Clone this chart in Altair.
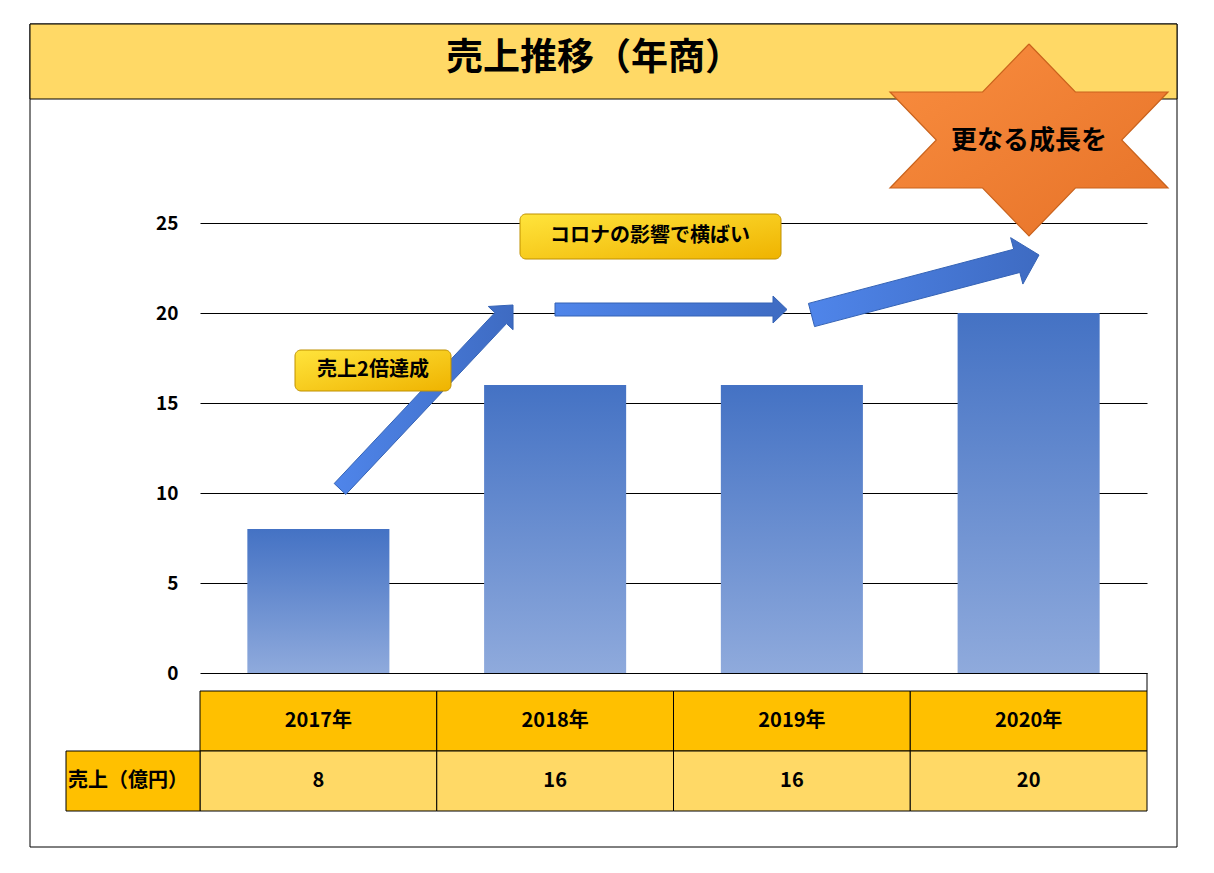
import math
import altair as alt
import pandas as pd

# ---------------- data ----------------
years = ["2017年", "2018年", "2019年", "2020年"]
sales = [8, 16, 16, 20]
row_label = ["売上（億円）"]
title_text = ["売上推移（年商）"]
star_text = ["更なる成長を"]
callout_1 = ["売上2倍達成"]
callout_2 = ["コロナの影響で横ばい"]
y_ticks = [0, 5, 10, 15, 20, 25]

# ---------------- layout / style ----------------
FONT = "Noto Sans CJK JP"
W, H = 947, 450
PAD = {"left": 200, "top": 223, "right": 67, "bottom": 200}

df = pd.DataFrame({"year": years, "sales": sales})
X = alt.X("year:N", sort=years, scale=alt.Scale(paddingInner=0, paddingOuter=0), axis=None)


def grad(c1, c2, x2=0, y2=1):
    return alt.LinearGradient(
        gradient="linear",
        stops=[alt.GradientStop(color=c1, offset=0), alt.GradientStop(color=c2, offset=1)],
        x1=0, y1=0, x2=x2, y2=y2,
    )


def one(vals):
    return pd.DataFrame({"t": vals})


# outer frame (no fill so gridlines stay visible)
frame = alt.Chart(one([""])).mark_rect(fillOpacity=0, stroke="black", strokeWidth=1).encode(
    x=alt.value(-170), x2=alt.value(977), y=alt.value(-199), y2=alt.value(624)
)

# title band
title_band = alt.Chart(one([""])).mark_rect(fill="#FFD966", stroke="black", strokeWidth=1).encode(
    x=alt.value(-170), x2=alt.value(977), y=alt.value(-199), y2=alt.value(-124)
)
title = alt.Chart(one(title_text)).mark_text(
    font=FONT, fontSize=37, fontWeight="bold", color="black", baseline="middle", align="center"
).encode(x=alt.value(394), y=alt.value(-164), text="t:N")

# bars
bars = alt.Chart(df).mark_bar(
    width=alt.RelativeBandSize(band=0.6), color=grad("#4472C4", "#8FAADC")
).encode(
    x=X,
    y=alt.Y(
        "sales:Q",
        scale=alt.Scale(domain=[0, 25], nice=False),
        axis=alt.Axis(
            values=y_ticks, title=None, domain=False, ticks=False, tickSize=0,
            labelPadding=22, labelFontSize=19, labelFontWeight="bold", labelColor="black",
            labelFont=FONT, grid=True, gridColor="black", gridWidth=1, gridOpacity=1,
        ),
    ),
)

# data table under the chart
gap_rule = alt.Chart(one([""])).mark_rule(color="black", strokeWidth=1).encode(
    x=alt.value(947), y=alt.value(450), y2=alt.value(468)
)
head_cells = alt.Chart(df).mark_rect(fill="#FFC000", stroke="black", strokeWidth=1).encode(
    x=X, y=alt.value(468), y2=alt.value(528)
)
data_cells = alt.Chart(df).mark_rect(fill="#FFD966", stroke="black", strokeWidth=1).encode(
    x=X, y=alt.value(528), y2=alt.value(588)
)
txt = dict(font=FONT, fontSize=20, fontWeight="bold", color="black", baseline="middle", align="center")
head_text = alt.Chart(df).mark_text(**txt).encode(x=X, y=alt.value(498), text="year:N")
data_text = alt.Chart(df).mark_text(**txt).encode(x=X, y=alt.value(558), text="sales:Q")
label_cell = alt.Chart(one([""])).mark_rect(fill="#FFC000", stroke="black", strokeWidth=1).encode(
    x=alt.value(-134), x2=alt.value(0), y=alt.value(528), y2=alt.value(588)
)
label_text = alt.Chart(one(row_label)).mark_text(
    font=FONT, fontSize=20, fontWeight="bold", color="black", baseline="middle", align="left"
).encode(x=alt.value(-132), y=alt.value(558), text="t:N")


# block arrows
def arrow_pts(tail, tip, shaft, head_w, head_len):
    tx, ty = tail
    px, py = tip
    L = math.hypot(px - tx, py - ty)
    ux, uy = (px - tx) / L, (py - ty) / L
    nx, ny = -uy, ux
    bx, by = px - ux * head_len, py - uy * head_len
    s, h = shaft / 2, head_w / 2
    pts = [
        (tx + nx * s, ty + ny * s),
        (bx + nx * s, by + ny * s),
        (bx + nx * h, by + ny * h),
        (px, py),
        (bx - nx * h, by - ny * h),
        (bx - nx * s, by - ny * s),
        (tx - nx * s, ty - ny * s),
    ]
    pts.append(pts[0])
    return pts


arrow_specs = [
    ((140, 266), (313, 82), 16, 34, 18),
    ((355, 86.5), (587, 86.5), 13, 27, 14),
    ((611.5, 92), (839, 32), 24, 48, 23),
]
rows = []
for k, spec in enumerate(arrow_specs):
    for i, (ax, ay) in enumerate(arrow_pts(*spec)):
        rows.append({"id": k, "i": i, "px": ax, "py": ay})

arrows = alt.Chart(pd.DataFrame(rows)).mark_line(
    fill=grad("#4F85EA", "#3E6BC2", x2=1, y2=0), stroke="#3563B5", strokeWidth=1, strokeJoin="miter"
).encode(
    x=alt.X("px:Q", scale=None, axis=None),
    y=alt.Y("py:Q", scale=None, axis=None),
    detail="id:N",
    order="i:Q",
)

# callout boxes
cbox = dict(cornerRadius=6, fill=grad("#FFE43C", "#EFB300", x2=1, y2=1), stroke="#BF9000", strokeWidth=1)
box1 = alt.Chart(one([""])).mark_rect(**cbox).encode(
    x=alt.value(95), x2=alt.value(251), y=alt.value(127), y2=alt.value(168)
)
box1_text = alt.Chart(one(callout_1)).mark_text(**txt).encode(x=alt.value(173), y=alt.value(147), text="t:N")
box2 = alt.Chart(one([""])).mark_rect(**cbox).encode(
    x=alt.value(320), x2=alt.value(581), y=alt.value(-9), y2=alt.value(36)
)
box2_text = alt.Chart(one(callout_2)).mark_text(**txt).encode(x=alt.value(450), y=alt.value(13), text="t:N")

# six-pointed star
cx, cy, R, sx = 829, -83, 96, 1.672
srows = []
for k in range(13):
    a = math.radians((k % 12) * 30)
    r = R if k % 2 == 0 else R / math.sqrt(3)
    srows.append({"i": k, "px": cx + r * math.sin(a) * sx, "py": cy - r * math.cos(a)})
star = alt.Chart(pd.DataFrame(srows)).mark_line(
    fill=grad("#F98D3F", "#E67228", x2=1, y2=1), stroke="#C9621C", strokeWidth=1.2, strokeJoin="miter"
).encode(
    x=alt.X("px:Q", scale=None, axis=None),
    y=alt.Y("py:Q", scale=None, axis=None),
    order="i:Q",
)
star_label = alt.Chart(one(star_text)).mark_text(
    font=FONT, fontSize=26, fontWeight="bold", color="black", baseline="middle", align="center"
).encode(x=alt.value(829), y=alt.value(-82), text="t:N")

chart = alt.layer(
    frame, title_band, title, bars, gap_rule, head_cells, data_cells, head_text, data_text,
    label_cell, label_text, arrows, box1, box1_text, box2, box2_text, star, star_label,
).properties(
    width=W, height=H, autosize=alt.AutoSizeParams(type="none"), padding=PAD
).configure(font=FONT).configure_view(stroke=None)

chart.save("out.html", embed_options={"renderer": "svg", "actions": False})
